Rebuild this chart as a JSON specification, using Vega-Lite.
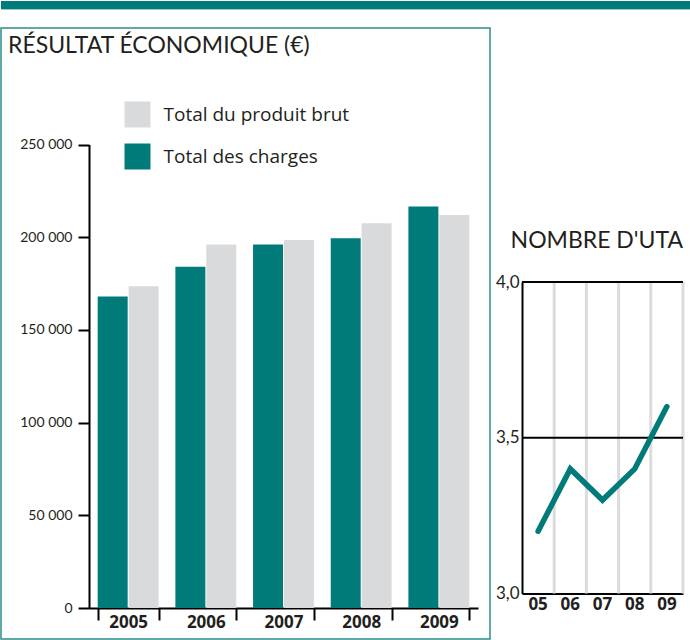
{
  "$schema": "https://vega.github.io/schema/vega-lite/v6.json",
  "padding": 0,
  "background": "white",
  "config": {"view": {"stroke": null}, "font": "Lato"},
  "datasets": {
    "bars": [
      {"annee": "2005", "serie": "Total des charges", "valeur": 168000},
      {"annee": "2005", "serie": "Total du produit brut", "valeur": 173500},
      {"annee": "2006", "serie": "Total des charges", "valeur": 184000},
      {"annee": "2006", "serie": "Total du produit brut", "valeur": 196000},
      {"annee": "2007", "serie": "Total des charges", "valeur": 196000},
      {"annee": "2007", "serie": "Total du produit brut", "valeur": 198500},
      {"annee": "2008", "serie": "Total des charges", "valeur": 199500},
      {"annee": "2008", "serie": "Total du produit brut", "valeur": 207500},
      {"annee": "2009", "serie": "Total des charges", "valeur": 216500},
      {"annee": "2009", "serie": "Total du produit brut", "valeur": 212000}
    ],
    "uta": [
      {"annee": "05", "uta": 3.2},
      {"annee": "06", "uta": 3.4},
      {"annee": "07", "uta": 3.3},
      {"annee": "08", "uta": 3.4},
      {"annee": "09", "uta": 3.6}
    ],
    "reperes": [
      {"v": 3.5},
      {"v": 4.0}
    ]
  },
  "bounds": "flush",
  "spacing": 19,
  "vconcat": [
    {
      "width": 689,
      "height": 8,
      "view": {"fill": "#007b7a", "stroke": "#8fcfcd", "strokeWidth": 1},
      "data": {"values": [{"t": "bandeau"}]},
      "mark": {"type": "rect", "color": "#007b7a"},
      "encoding": {}
    },
    {
      "bounds": "flush",
      "spacing": 32,
      "hconcat": [
        {
          "width": 489,
          "height": 611,
          "view": {"stroke": "#2b8f8d", "strokeWidth": 1.5},
          "title": {"text": "RÉSULTAT ÉCONOMIQUE (€)", "anchor": "start", "frame": "group", "orient": "top", "offset": -48, "baseline": "alphabetic", "fontSize": 23, "font": "Lato", "fontWeight": "normal", "color": "#231f20", "dx": 7},
          "data": {"name": "bars"},
          "mark": {"type": "bar"},
          "encoding": {
            "x": {
              "field": "annee", "type": "nominal",
              "scale": {"type": "band", "range": [88, 477], "paddingInner": 0.216, "paddingOuter": 0.112},
              "axis": {"title": null, "labelAngle": 0, "tickBand": "extent", "ticks": true, "tickSize": 12, "tickWidth": 2, "tickColor": "#000", "domainColor": "#000", "domainWidth": 2, "labelFont": "Open Sans", "labelFontWeight": "bold", "labelFontSize": 17, "labelColor": "#231f20", "labelPadding": -6, "offset": -31, "grid": false}
            },
            "xOffset": {"field": "serie", "type": "nominal", "sort": ["Total des charges", "Total du produit brut"], "scale": {"paddingInner": 0.03, "paddingOuter": 0}},
            "y": {
              "field": "valeur", "type": "quantitative",
              "scale": {"domain": [0, 250000], "range": [580, 116.5], "nice": false, "zero": true},
              "axis": {"title": null, "values": [0, 50000, 100000, 150000, 200000, 250000], "labelExpr": "replace(format(datum.value, ','), ',', ' ')", "grid": false, "ticks": true, "tickSize": 11, "tickWidth": 2, "tickColor": "#000", "domainColor": "#000", "domainWidth": 2, "labelFont": "Lato", "labelFontSize": 14, "labelColor": "#231f20", "labelPadding": 6, "offset": -88}
            },
            "color": {
              "field": "serie", "type": "nominal",
              "scale": {"domain": ["Total du produit brut", "Total des charges"], "range": ["#d9dadb", "#007b7a"]},
              "legend": {"orient": "none", "legendX": 123.5, "legendY": 100.5, "direction": "vertical", "title": null, "symbolType": "square", "symbolSize": 676, "symbolStrokeWidth": 0, "labelFont": "Open Sans", "labelFontSize": 19, "labelLimit": 0, "labelColor": "#231f20", "rowPadding": 16, "labelOffset": 13}
            }
          }
        },
        {
          "width": 161,
          "height": 611,
          "title": {"text": "NOMBRE D'UTA", "anchor": "end", "frame": "group", "orient": "top", "offset": -243, "baseline": "alphabetic", "fontSize": 23, "font": "Lato", "fontWeight": "normal", "color": "#231f20"},
          "layer": [
            {
              "data": {"name": "uta"},
              "mark": {"type": "rule", "color": "#dcdcdc", "strokeWidth": 3},
              "encoding": {
                "x": {
                  "field": "annee", "type": "ordinal", "bandPosition": 1,
                  "scale": {"type": "band", "paddingInner": 0, "paddingOuter": 0},
                  "axis": {"title": null, "labelAngle": 0, "ticks": false, "grid": false, "domainColor": "#000", "domainWidth": 2, "labelFont": "Open Sans", "labelFontWeight": "bold", "labelFontSize": 17, "labelColor": "#231f20", "labelPadding": 3, "offset": -45.5}
                },
                "y": {
                  "datum": 3, "type": "quantitative",
                  "scale": {"domain": [3, 4], "range": [565.5, 254], "nice": false, "zero": false},
                  "axis": {"title": null, "values": [3, 3.5, 4], "ticks": false, "grid": false, "domainColor": "#000", "domainWidth": 2, "labelExpr": "replace(format(datum.value, '.1f'), '.', ',')", "labelFont": "Lato", "labelFontSize": 17, "labelColor": "#231f20", "labelPadding": 3}
                },
                "y2": {"datum": 4}
              }
            },
            {
              "data": {"name": "reperes"},
              "mark": {"type": "rule", "color": "#000", "strokeWidth": 2},
              "encoding": {
                "y": {"field": "v", "type": "quantitative", "scale": {"domain": [3, 4], "range": [565.5, 254], "nice": false, "zero": false}}
              }
            },
            {
              "data": {"name": "uta"},
              "mark": {"type": "line", "color": "#007b7a", "strokeWidth": 5.5, "strokeCap": "round"},
              "encoding": {
                "x": {"field": "annee", "type": "ordinal", "bandPosition": 0.5, "scale": {"type": "band", "paddingInner": 0, "paddingOuter": 0}},
                "y": {"field": "uta", "type": "quantitative", "scale": {"domain": [3, 4], "range": [565.5, 254], "nice": false, "zero": false}}
              }
            }
          ]
        }
      ]
    }
  ]
}
